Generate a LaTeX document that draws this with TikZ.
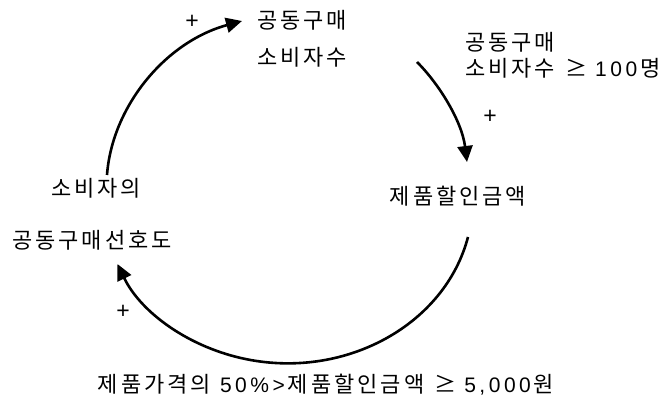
\documentclass[tikz,border=0pt]{standalone}
\usepackage{fontspec}
\usetikzlibrary{arrows.meta}
\newfontfamily\kfont{Noto Sans CJK KR}
\newfontfamily\nfont{Liberation Sans}
\newdimen\trk
\def\tracked#1{\trackedA#1\relax}
\def\trackedA#1{#1\trackedB}
\def\trackedB#1{\ifx#1\relax\else\kern\trk#1\expandafter\trackedB\fi}
\newcommand{\ktr}[1]{{\trk=3pt\tracked{#1}}}
\newcommand{\ntr}[1]{{\nfont\fontsize{21}{21}\selectfont\trk=3.5pt\tracked{#1}}}
\begin{document}
\begin{tikzpicture}[x=1pt,y=1pt,
  lbl/.style={inner sep=0pt, font=\kfont\fontsize{22}{24}\selectfont},
  pl/.style={inner sep=0pt, font=\nfont\fontsize{23}{23}\selectfont},
  flow/.style={line width=2.6pt, -{Triangle[length=16pt,width=15pt]}}]
\useasboundingbox (0,0) rectangle (665,412);
% texts
\node[lbl, anchor=west] (a1) at (257,392) {\ktr{공동구매}};
\node[lbl, anchor=west] (a2) at (257,355) {\ktr{소비자수}};
\node[lbl, anchor=west] (b1) at (465,370) {\ktr{공동구매}};
\node[lbl, anchor=west] (b2) at (465,344) {\ktr{소비자수}\hspace{10pt}≥\hspace{8pt}\ntr{100}\kern3pt 명};
\node[lbl] (c) at (458,216) {\ktr{제품할인금액}};
\node[lbl] (d1) at (96,224) {\ktr{소비자의}};
\node[lbl] (d2) at (92,172) {\ktr{공동구매선호도}};
\node[lbl] (e) at (326,27) {\ktr{제품가격의}\hspace{9pt}\ntr{50\%>}\kern3pt\ktr{제품할인금액}\hspace{10pt}≥\hspace{8pt}\ntr{5,000}\kern3pt 원};
\node[pl] (p1) at (192,390) {+};
\node[pl] (p2) at (490,295) {+};
\node[pl] (p3) at (123,100) {+};
% connector end points
\coordinate (s1) at (107,237);
\coordinate (t1) at (242,391);
\coordinate (s2) at (417,350);
\coordinate (t2) at (467,250);
\coordinate (s3) at (468,175);
% arrows
\draw[flow] (s1) .. controls (112,305) and (165,370) .. (t1);
\draw[flow] (s2) .. controls (440,327) and (462,290) .. (t2);
\draw[flow] (s3) arc[start angle=-13, end angle=-157, x radius=185, y radius=163];
\end{tikzpicture}
\end{document}
